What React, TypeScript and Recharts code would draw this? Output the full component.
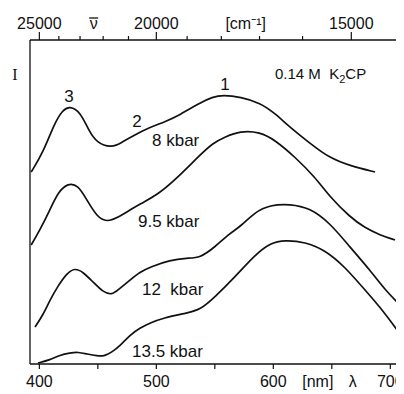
import React from 'react';
import { LineChart, Line, XAxis, YAxis } from 'recharts';

// wavelengths (nm) and relative intensities (arbitrary, offset traces)
const wl8 = [393, 403, 413, 420, 426, 435, 442, 449, 462, 471, 478, 495, 507, 520, 537, 548, 557, 572, 589, 601, 614, 631, 648, 666, 687];
const i8 = [192, 211, 241, 254, 258, 252, 234, 221, 216, 222, 227, 237, 242, 249, 261, 267, 269, 267, 261, 251, 237, 221, 206, 198, 192];

const wl95 = [393, 400.5, 409, 416, 424.5, 433, 440.7, 449.3, 457.8, 466.4, 477.5, 486, 500.6, 516, 537.3, 548.4, 558.7, 571.5, 588.6, 601.4, 618.5, 635.6, 648.4, 665.5, 678.4, 691.2, 704];
const i95 = [119, 134, 154, 172, 181, 179, 164, 147, 142, 146, 154, 160, 169, 184, 209, 221, 227, 233, 232, 224, 207, 187, 167, 147, 136, 129, 124];

const wl12 = [396.3, 403.1, 409.1, 415.9, 423.6, 430.5, 437.3, 445.9, 454.4, 462.1, 467.2, 477.5, 486, 494.6, 511.7, 526.2, 537.3, 550.1, 563, 571.5, 584.3, 597.2, 614.2, 631.3, 648.4, 665.5, 682.6, 695.5, 710];
const i12 = [37, 49, 64, 78, 91, 96, 92, 82, 72, 69, 74, 84, 92, 97, 104, 106, 106, 117, 131, 137, 152, 159, 160, 156, 141, 117, 94, 74, 57];

const wl135 = [398.8, 409.1, 417.6, 426.2, 433, 440.7, 449.3, 456.1, 462.1, 468.9, 477.5, 486, 494.6, 505.7, 526.2, 537.3, 550.1, 567.2, 584.3, 597.2, 610, 627.1, 644.2, 661.3, 678.4, 695.5, 710];
const i135 = [1, 4, 9, 11, 12, 10, 8, 8, 12, 18, 29, 36, 41, 46, 51, 54, 67, 87, 109, 121, 124, 122, 114, 97, 74, 51, 27];

// axis ticks
const nmTicks = [400, 450, 500, 550, 600, 650, 700];
const nmLabels = ['400', '', '500', '', '600', '', '700'];
const nmNotes = [{ at: 638, text: '[nm]' }, { at: 668, text: 'λ' }];
const wnTicks = [25000, 24000, 23000, 22000, 21000, 20000, 19000, 18000, 17000, 16000, 15000];
const wnLabels = ['25000', '', '', '', '', '20000', '', '', '', '', '15000'];
const wnNotes = [{ at: 22400, text: 'ν', bar: true }, { at: 17350, text: '[cm⁻¹]', bar: false }];

const build = (xs: number[], ys: number[]) => xs.map((x, i) => ({ wl: x, v: ys[i] }));
const d8 = build(wl8, i8);
const d95 = build(wl95, i95);
const d12 = build(wl12, i12);
const d135 = build(wl135, i135);

type TickItem = { value: number; label: string; tick: boolean; major: boolean; bar?: boolean };
const bottomItems: TickItem[] = [
  ...nmTicks.map((t, i) => ({ value: t, label: nmLabels[i], tick: true, major: true })),
  ...nmNotes.map((n) => ({ value: n.at, label: n.text, tick: false, major: false })),
];
const topItems: TickItem[] = [
  ...wnTicks.map((w, i) => ({ value: 1e7 / w, label: wnLabels[i], tick: true, major: wnLabels[i] !== '' })),
  ...wnNotes.map((n) => ({ value: 1e7 / n.at, label: n.text, tick: false, major: false, bar: n.bar })),
];

const FONT = '"Liberation Sans", Arial, sans-serif';
const INK = '#111';

const BottomTick = (props: any) => {
  const { x, y, index } = props;
  const it = bottomItems[index];
  if (!it) return null;
  return (
    <g>
      {it.tick && <line x1={x} x2={x} y1={y} y2={y + 5} stroke={INK} strokeWidth={1.2} />}
      {it.label && (
        <text x={x} y={y + 23} textAnchor="middle" fontFamily={FONT} fontSize={16} fill={INK}>
          {it.label}
        </text>
      )}
    </g>
  );
};

const TopTick = (props: any) => {
  const { x, y, index } = props;
  const it = topItems[index];
  if (!it) return null;
  return (
    <g>
      {it.tick && <line x1={x} x2={x} y1={y} y2={y - (it.major ? 8 : 4)} stroke={INK} strokeWidth={1.2} />}
      {it.label && (
        <text x={x} y={y - 11} textAnchor="middle" fontFamily={FONT} fontSize={16} fill={INK}>
          {it.label}
        </text>
      )}
      {it.bar && <line x1={x - 4.5} x2={x + 4.5} y1={y - 22} y2={y - 22} stroke={INK} strokeWidth={1.3} />}
    </g>
  );
};

const ann = { fontFamily: FONT, fontSize: 17, fill: INK } as const;
const lineProps = { xAxisId: 'bottom', yAxisId: 'y', dataKey: 'v', type: 'basis' as const, stroke: INK, strokeWidth: 1.7, dot: false, isAnimationActive: false };

export default function App() {
  return (
    <LineChart width={396} height={386} margin={{ top: 0, right: 2, bottom: 0, left: 0 }}>
      <XAxis
        xAxisId="bottom"
        dataKey="wl"
        type="number"
        domain={[392, 710]}
        allowDataOverflow
        orientation="bottom"
        height={30}
        ticks={bottomItems.map((t) => t.value)}
        interval={0}
        tickSize={0}
        tickMargin={0}
        tickLine={false}
        axisLine={{ stroke: INK, strokeWidth: 1.3 }}
        tick={<BottomTick />}
      />
      <XAxis
        xAxisId="top"
        dataKey="wl"
        type="number"
        domain={[392, 710]}
        allowDataOverflow
        orientation="top"
        height={32}
        ticks={topItems.map((t) => t.value)}
        interval={0}
        tickSize={0}
        tickMargin={0}
        tickLine={false}
        axisLine={{ stroke: INK, strokeWidth: 1.3 }}
        tick={<TopTick />}
      />
      <YAxis
        yAxisId="y"
        type="number"
        domain={[0, 324]}
        allowDataOverflow
        width={22}
        tick={false}
        tickLine={false}
        axisLine={{ stroke: INK, strokeWidth: 1.3 }}
      />
      <Line {...lineProps} data={d8} />
      <Line {...lineProps} data={d95} />
      <Line {...lineProps} data={d12} />
      <Line {...lineProps} data={d135} />
      <line x1={394} x2={394} y1={32} y2={40} stroke={INK} strokeWidth={1.3} />
      <text x={7} y={72} textAnchor="middle" fontFamily='"Liberation Serif", serif' fontSize={16} fill={INK}>I</text>
      <text x={61} y={94} textAnchor="middle" {...ann}>3</text>
      <text x={129} y={119} textAnchor="middle" {...ann}>2</text>
      <text x={217} y={82} textAnchor="middle" {...ann}>1</text>
      <text x={144} y={138} {...ann}>8 kbar</text>
      <text x={130} y={219} {...ann}>9.5 kbar</text>
      <text x={134} y={287} {...ann} style={{ whiteSpace: 'pre' }}>12  kbar</text>
      <text x={124} y={349} {...ann}>13.5 kbar</text>
      <text x={267} y={71} fontFamily={FONT} fontSize={15} fill={INK}>
        0.14 M{'\u00a0 '}K<tspan fontSize={11} dy={4}>2</tspan><tspan dy={-4}>CP</tspan>
      </text>
    </LineChart>
  );
}
